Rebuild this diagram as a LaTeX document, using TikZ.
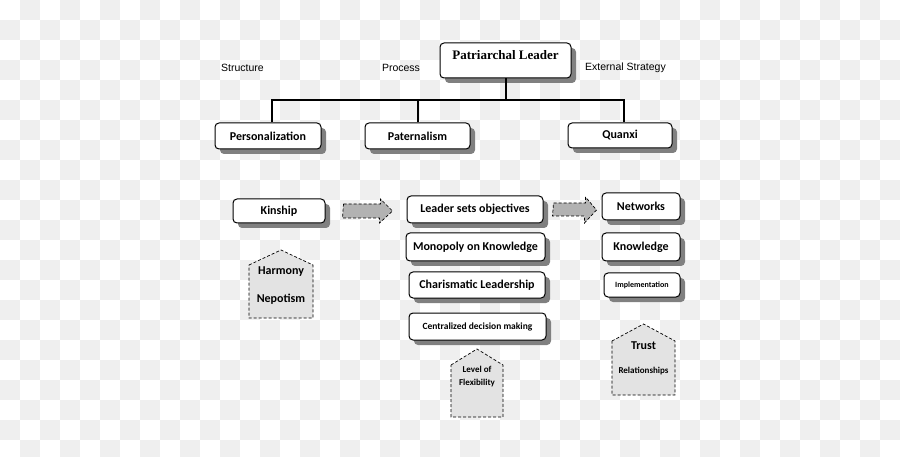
\documentclass[tikz,border=0pt]{standalone}
\usepackage{fontspec}
\setmainfont{Carlito}
\newfontfamily\serifb{Liberation Serif}
\newfontfamily\labfont{Liberation Sans}
\usetikzlibrary{shadows,patterns,calc}
\definecolor{chk}{RGB}{239,239,239}
\tikzset{
  box/.style={draw, rounded corners=4pt, line width=1pt, fill=white, inner sep=0pt,
    font=\bfseries\fontsize{12}{14}\selectfont,
    general shadow={shadow xshift=5pt, shadow yshift=-5pt, fill=black!50}},
  lab/.style={font=\labfont\fontsize{10.5}{12}\selectfont, inner sep=0pt},
  house/.style={draw, densely dashed, line width=0.7pt, fill=gray!22},
  barrow/.style={draw, densely dashed, line width=0.7pt, fill=gray!60},
  htext/.style={font=\bfseries\fontsize{12}{14}\selectfont, inner sep=0pt},
  hsmall/.style={font=\bfseries\fontsize{9}{11}\selectfont, inner sep=0pt},
  conn/.style={line width=2pt, black},
  connsh/.style={line width=1.2pt, densely dotted, black!60},
}
\begin{document}
\begin{tikzpicture}[x=1pt,y=-1pt]
\useasboundingbox (0,0) rectangle (900,457);
% checkerboard background
\fill[white] (0,0) rectangle (900,457);
\foreach \j in {0,40,...,440} {\foreach \i in {20,60,...,880} {\fill[chk] (\i,\j) rectangle ++(20,20);}}
\foreach \j in {20,60,...,440} {\foreach \i in {0,40,...,880} {\fill[chk] (\i,\j) rectangle ++(20,20);}}

% labels
\node[lab] (lstr) at (242.5,68) {Structure};
\node[lab] (lpro) at (401,68) {Process};
\node[lab] (lext) at (625.5,68) {External Strategy};

% top box
\node[box, minimum width=131pt, minimum height=35pt] (pl) at (505.5,60.5) {};
\node[font=\serifb\bfseries\fontsize{13}{15}\selectfont, inner sep=0pt] (plt) at (505.5,55) {Patriarchal Leader};

% level 1
\node[box, minimum width=106pt, minimum height=26pt] (pers) at (268,136) {Personalization};
\node[box, minimum width=105pt, minimum height=26pt] (pat) at (417.5,136) {Paternalism};
\node[box, minimum width=104pt, minimum height=25pt] (qx) at (620,135.5) {Quanxi};

% connectors
\coordinate (bus) at (505.5,100);
\begin{scope}[shift={(1.5,1.5)}]
\draw[connsh] (pl.south) -- (bus);
\draw[connsh] ([xshift=4pt]pers.north) |- (bus) -| ([xshift=4pt]qx.north);
\draw[connsh] (pat.north) -- (pat.north |- bus);
\end{scope}
\draw[conn] (pl.south) -- (bus);
\draw[conn] ([xshift=4pt]pers.north) |- (bus) -| ([xshift=4pt]qx.north);
\draw[conn] (pat.north) -- (pat.north |- bus);

% column 1
\node[box, minimum width=92pt, minimum height=24pt] (kin) at (279,211) {Kinship};
\draw[house] (249,265) -- (281,250) -- (313,265) -- (313,318) -- (249,318) -- cycle;
\node[htext] (harm) at (281,272) {Harmony};
\node[htext] (nep) at (281,299) {Nepotism};

% column 2
\node[box, minimum width=136pt, minimum height=27pt] (lso) at (475,209.5) {Leader sets objectives};
\node[box, minimum width=139pt, minimum height=28pt] (mon) at (475.5,247) {Monopoly on Knowledge};
\node[box, minimum width=136pt, minimum height=26pt] (cha) at (477,285) {Charismatic Leadership};
\node[box, minimum width=137pt, minimum height=27pt, font=\bfseries\fontsize{9.5}{11}\selectfont] (cen) at (477.5,326.5) {Centralized decision making};
\draw[house] (451,365) -- (477,349) -- (503,365) -- (503,417) -- (451,417) -- cycle;
\node[hsmall] (lvl) at (477,369) {Level of};
\node[hsmall] (flex) at (477,383) {Flexibility};

% column 3
\node[box, minimum width=78pt, minimum height=27pt] (net) at (641,206.5) {Networks};
\node[box, minimum width=78pt, minimum height=28pt] (know) at (641,247) {Knowledge};
\node[box, minimum width=76pt, minimum height=24pt, font=\bfseries\fontsize{8}{10}\selectfont] (impl) at (642,285) {Implementation};
\draw[house] (612,341) -- (643.5,324) -- (675,341) -- (675,395) -- (612,395) -- cycle;
\node[htext] (trust) at (643.5,346) {Trust};
\node[hsmall] (rel) at (643.5,371) {Relationships};

% block arrows
\draw[barrow] ($(kin.east)+(18,-7)$) -- ++(37,0) -- ++(0,-5) -- ($(lso.west |- kin.east)+(-14,0)$) -- ++(-13,12) -- ++(0,-5) -- ++(-37,0) -- cycle;
\draw[barrow] ($(lso.east)+(10,-6.5)$) -- ++(32,0) -- ++(0,-6) -- ($(net.west)+(-5,3.5)$) -- ++(-12,13) -- ++(0,-7) -- ++(-32,0) -- cycle;
\end{tikzpicture}
\end{document}
